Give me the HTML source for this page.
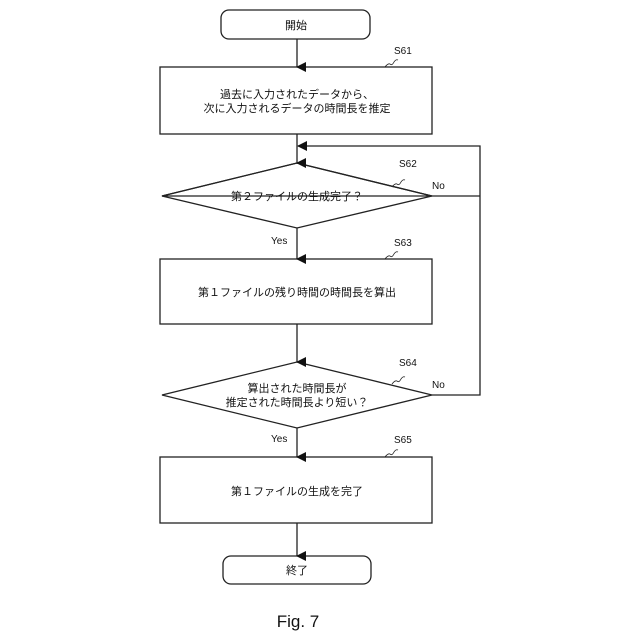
<!DOCTYPE html>
<html><head><meta charset="utf-8"><style>
html,body{margin:0;padding:0;background:#fff;width:640px;height:640px;overflow:hidden}
text{font-family:"Liberation Sans","Noto Sans CJK JP",sans-serif;fill:#111}
</style></head><body>
<svg width="640" height="640" viewBox="0 0 640 640" xmlns="http://www.w3.org/2000/svg">
<defs><marker id="a" markerWidth="10" markerHeight="10" refX="5" refY="9" orient="auto" markerUnits="userSpaceOnUse"><path d="M0,0 L10,0 L5,10 Z" fill="#111"/></marker>
<marker id="l" markerWidth="10" markerHeight="10" refX="9" refY="5" orient="auto-start-reverse" markerUnits="userSpaceOnUse"><path d="M0,0 L10,5 L0,10 Z" fill="#111"/></marker></defs>
<g stroke="#222" stroke-width="1.3" fill="none">
<rect x="221" y="10" width="149" height="29" rx="8"/>
<rect x="160" y="67" width="272" height="67"/>
<polygon points="297,163 432,196 162,196 297,163"/>
<polygon points="297,163 432,196 297,228 162,196"/>
<rect x="160" y="259" width="272" height="65"/>
<polygon points="297,362 432,395 297,428 162,395"/>
<rect x="160" y="457" width="272" height="66"/>
<rect x="223" y="556" width="148" height="28" rx="8"/>
<line x1="297" y1="39" x2="297" y2="67" marker-end="url(#a)"/>
<line x1="297" y1="134" x2="297" y2="163" marker-end="url(#a)"/>
<line x1="297" y1="228" x2="297" y2="259" marker-end="url(#a)"/>
<line x1="297" y1="324" x2="297" y2="362" marker-end="url(#a)"/>
<line x1="297" y1="428" x2="297" y2="457" marker-end="url(#a)"/>
<line x1="297" y1="523" x2="297" y2="556" marker-end="url(#a)"/>
<polyline points="432,196 480,196"/>
<polyline points="432,395 480,395 480,146 298,146" marker-end="url(#l)"/>
<path d="M385,67 q3,-4 5,-3 q2,2 4,-2 q2,-3 4,-2" stroke-width="0.8"/>
<path d="M392,187 q3,-4 5,-3 q2,2 4,-2 q2,-3 4,-2" stroke-width="0.8"/>
<path d="M385,259 q3,-4 5,-3 q2,2 4,-2 q2,-3 4,-2" stroke-width="0.8"/>
<path d="M392,384 q3,-4 5,-3 q2,2 4,-2 q2,-3 4,-2" stroke-width="0.8"/>
<path d="M385,457 q3,-4 5,-3 q2,2 4,-2 q2,-3 4,-2" stroke-width="0.8"/>
</g>
<g font-size="11" text-anchor="middle">
<text x="296" y="29">開始</text>
<text x="297" y="98">過去に入力されたデータから、</text>
<text x="297" y="112">次に入力されるデータの時間長を推定</text>
<text x="297" y="200">第２ファイルの生成完了？</text>
<text x="297" y="296">第１ファイルの残り時間の時間長を算出</text>
<text x="297" y="392">算出された時間長が</text>
<text x="297" y="406">推定された時間長より短い？</text>
<text x="297" y="495">第１ファイルの生成を完了</text>
<text x="297" y="574">終了</text>
</g>
<g font-size="10">
<text x="394" y="54">S61</text>
<text x="399" y="167">S62</text>
<text x="394" y="246">S63</text>
<text x="399" y="366">S64</text>
<text x="394" y="443">S65</text>
<text x="432" y="189">No</text>
<text x="432" y="388">No</text>
<text x="271" y="244">Yes</text>
<text x="271" y="442">Yes</text>
</g>
<text x="298" y="627" font-size="17" text-anchor="middle" font-family="Liberation Mono,monospace">Fig. 7</text>
</svg>
</body></html>
